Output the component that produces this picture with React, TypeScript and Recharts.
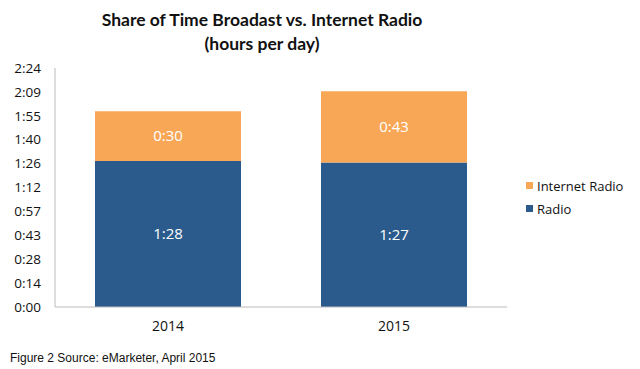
import { BarChart, Bar, XAxis, YAxis, LabelList } from "recharts";

const years = ["2014", "2015"];
const radioMinutes = [88, 87];
const internetMinutes = [30, 43];
const yTicks = [0, 14.4, 28.8, 43.2, 57.6, 72, 86.4, 100.8, 115.2, 129.6, 144];

const RADIO = "#2a5b8c";
const INTERNET = "#f8a757";
const FONT = "'Open Sans', Lato, sans-serif";

const data = years.map((year, i) => ({
  year,
  radio: radioMinutes[i],
  internet: internetMinutes[i],
}));

// minutes -> h:mm, truncated like the original axis
const toClock = (v: number) => {
  const m = Math.floor(v + 1e-6);
  return `${Math.floor(m / 60)}:${String(m % 60).padStart(2, "0")}`;
};

const legendItems = [
  { label: "Internet Radio", color: INTERNET },
  { label: "Radio", color: RADIO },
];

const ChartLegend = () => (
  <div style={{ fontFamily: FONT, fontSize: 13, color: "#111", whiteSpace: "nowrap" }}>
    {legendItems.map((item) => (
      <div
        key={item.label}
        style={{ display: "flex", alignItems: "center", height: 23 }}
      >
        <span
          style={{
            width: 7,
            height: 7,
            minWidth: 7,
            flexShrink: 0,
            background: item.color,
            marginRight: 4,
            display: "inline-block",
          }}
        />
        <span>{item.label}</span>
      </div>
    ))}
  </div>
);

export default function App() {
  return (
    <div
      style={{
        position: "absolute",
        left: 0,
        top: 0,
        width: 640,
        height: 369,
        background: "#fff",
        fontFamily: FONT,
      }}
    >
      <div
        style={{
          position: "absolute",
          left: 0,
          width: 524,
          top: 8,
          textAlign: "center",
          fontFamily: "Lato, 'Open Sans', sans-serif",
          fontWeight: 700,
          fontSize: 17.5,
          lineHeight: "24px",
          color: "#111",
          whiteSpace: "nowrap",
        }}
      >
        Share of Time Broadast vs. Internet Radio
        <br />
        (hours per day)
      </div>
      <div style={{ position: "absolute", left: 0, top: 0 }}>
        <BarChart
          width={640}
          height={369}
          data={data}
          margin={{ top: 68, right: 133, bottom: 32, left: 0 }}
          barCategoryGap="17.7%"
        >
          <XAxis
            dataKey="year"
            tickLine={false}
            tickSize={6}
            tickMargin={8}
            axisLine={{ stroke: "#bbb" }}
            tick={{ fill: "#111", fontSize: 14, fontFamily: FONT }}
            height={30}
          />
          <YAxis
            domain={[0, 144]}
            ticks={yTicks}
            interval={0}
            tickFormatter={toClock}
            tickLine={false}
            tickSize={6}
            tickMargin={8}
            axisLine={{ stroke: "#bbb" }}
            tick={{ fill: "#111", fontSize: 13.5, fontFamily: FONT }}
            width={55}
          />
          <Bar dataKey="radio" stackId="a" fill={RADIO} isAnimationActive={false}>
            <LabelList
              dataKey="radio"
              position="center"
              formatter={(v: number) => toClock(v)}
              fill="#fff"
              fontSize={15}
              fontFamily={FONT}
            />
          </Bar>
          <Bar dataKey="internet" stackId="a" fill={INTERNET} isAnimationActive={false}>
            <LabelList
              dataKey="internet"
              position="center"
              formatter={(v: number) => toClock(v)}
              fill="#fff"
              fontSize={15}
              fontFamily={FONT}
            />
          </Bar>
        </BarChart>
      </div>
      <div style={{ position: "absolute", left: 526, top: 174 }}>
        <ChartLegend />
      </div>
      <div
        style={{
          position: "absolute",
          left: 10,
          top: 351,
          fontFamily: "'Liberation Sans', Arial, sans-serif",
          fontSize: 12,
          color: "#111",
        }}
      >
        Figure 2 Source: eMarketer, April 2015
      </div>
    </div>
  );
}
